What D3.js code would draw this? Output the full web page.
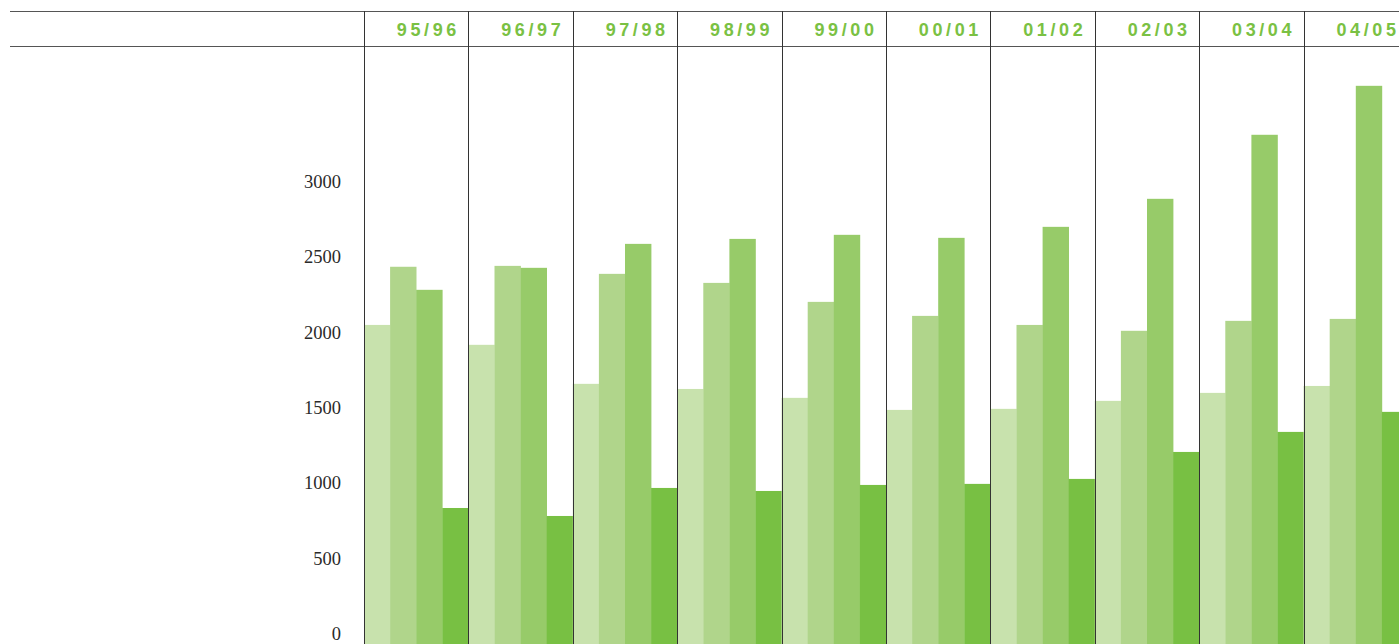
<!DOCTYPE html>
<html>
<head>
<meta charset="utf-8">
<title>Students by year, 95/96 - 04/05</title>
<script src="https://cdn.jsdelivr.net/npm/d3@7"></script>
<style>
    body { margin: 0; background: #fff; overflow: hidden; }
    .yearLabel {
        font-family: 'Liberation Sans', Arial, sans-serif;
        font-weight: 700;
        font-size: 18px;
        letter-spacing: 3.6px;
        fill: #7ac143;
    }
    .yTick {
        font-family: 'Liberation Serif', 'Times New Roman', serif;
        font-size: 18.5px;
        fill: #2a2a2a;
    }
</style>
</head>
<body>
<div id="chart"></div>
<script>
    // data
    var years = ["95/96", "96/97", "97/98", "98/99", "99/00", "00/01", "01/02", "02/03", "03/04", "04/05"];
    var series = ["s1", "s2", "s3", "s4"];
    var s1 = [2058, 1926, 1667, 1633, 1574, 1494, 1501, 1554, 1607, 1653];
    var s2 = [2444, 2450, 2397, 2337, 2211, 2118, 2058, 2019, 2085, 2098];
    var s3 = [2291, 2437, 2596, 2629, 2656, 2636, 2709, 2895, 3320, 3645];
    var s4 = [843, 790, 976, 956, 996, 1003, 1036, 1215, 1348, 1481];
    var yTicks = [0, 500, 1000, 1500, 2000, 2500, 3000];
    var colors = ["#c8e2ad", "#b0d58b", "#97cb69", "#78c043"];

    var w = 1399, h = 644;
    var headerTop = 11, headerBottom = 46;

    var svg = d3.select("#chart").append("svg")
        .attr("width", w)
        .attr("height", h);

    var x = d3.scaleBand()
        .domain(years)
        .range([364, 1408])
        .padding(0);

    var xInner = d3.scaleBand()
        .domain(series)
        .range([0, x.bandwidth()])
        .padding(0);

    var y = d3.scaleLinear()
        .domain([0, 3000])
        .range([635, 183]);

    var table = years.map(function(yr, i) {
        return { year: yr, values: [s1[i], s2[i], s3[i], s4[i]] };
    });

    // bars (run down to the bottom edge of the page)
    var groups = svg.selectAll("g.year")
        .data(table)
        .enter().append("g")
        .attr("class", "year")
        .attr("transform", function(d) { return "translate(" + x(d.year) + ",0)"; });

    groups.selectAll("rect")
        .data(function(d) {
            return d.values.map(function(v, j) { return { key: series[j], value: v, idx: j }; });
        })
        .enter().append("rect")
        .attr("x", function(d) { return xInner(d.key); })
        .attr("width", xInner.bandwidth() + 0.3)
        .attr("y", function(d) { return y(d.value); })
        .attr("height", function(d) { return h + 10 - y(d.value); })
        .attr("fill", function(d) { return colors[d.idx]; });

    // header rules
    svg.append("line")
        .attr("x1", 10).attr("x2", w)
        .attr("y1", headerTop + 0.5).attr("y2", headerTop + 0.5)
        .attr("stroke", "#555").attr("stroke-width", 1);
    svg.append("line")
        .attr("x1", 10).attr("x2", w)
        .attr("y1", headerBottom + 0.5).attr("y2", headerBottom + 0.5)
        .attr("stroke", "#555").attr("stroke-width", 1);

    // column separators
    svg.selectAll("line.sep")
        .data(years)
        .enter().append("line")
        .attr("class", "sep")
        .attr("x1", function(d) { return Math.round(x(d)) + 0.5; })
        .attr("x2", function(d) { return Math.round(x(d)) + 0.5; })
        .attr("y1", headerTop)
        .attr("y2", h)
        .attr("stroke", "#333")
        .attr("stroke-width", 1);

    // year labels in the header
    svg.selectAll("text.yearLabel")
        .data(years)
        .enter().append("text")
        .attr("class", "yearLabel")
        .attr("x", function(d) { return x(d) + x.bandwidth() - 8.5; })
        .attr("y", 35.5)
        .attr("text-anchor", "end")
        .text(function(d) { return d; });

    // y tick labels
    svg.selectAll("text.yTick")
        .data(yTicks)
        .enter().append("text")
        .attr("class", "yTick")
        .attr("x", 341)
        .attr("y", function(d) { return y(d) - 1; })
        .attr("dy", "0.33em")
        .attr("text-anchor", "end")
        .text(function(d) { return d; });
</script>
</body>
</html>
